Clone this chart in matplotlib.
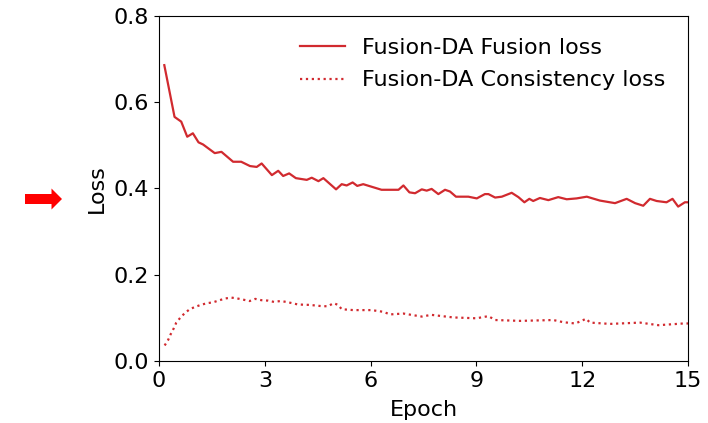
import matplotlib
matplotlib.use('Agg')
import matplotlib.pyplot as plt
from matplotlib.patches import FancyArrow

# Fusion loss (epoch, loss)
fusion_epoch = [0.15, 0.30, 0.44, 0.63, 0.80, 0.96, 1.12, 1.25, 1.58, 1.77,
                2.10, 2.33, 2.58, 2.77, 2.91, 3.20, 3.38, 3.52, 3.69, 3.88,
                4.19, 4.33, 4.52, 4.66, 5.02, 5.18, 5.32, 5.49, 5.62, 5.79,
                6.31, 6.79, 6.93, 7.10, 7.26, 7.45, 7.59, 7.73, 7.92, 8.11,
                8.25, 8.42, 8.77, 9.01, 9.24, 9.34, 9.53, 9.72, 10.00, 10.19,
                10.36, 10.50, 10.61, 10.80, 11.04, 11.32, 11.56, 11.84, 12.13, 12.50,
                12.93, 13.26, 13.50, 13.73, 13.92, 14.11, 14.39, 14.56, 14.72, 14.91,
                15.00]
fusion_loss = [0.686, 0.624, 0.566, 0.555, 0.520, 0.528, 0.507, 0.502, 0.482, 0.485,
               0.462, 0.462, 0.452, 0.450, 0.458, 0.431, 0.441, 0.429, 0.435, 0.424,
               0.420, 0.425, 0.417, 0.424, 0.398, 0.410, 0.407, 0.414, 0.406, 0.410,
               0.397, 0.397, 0.407, 0.391, 0.389, 0.398, 0.395, 0.399, 0.387, 0.397,
               0.393, 0.381, 0.381, 0.377, 0.387, 0.387, 0.379, 0.381, 0.390, 0.380,
               0.368, 0.376, 0.371, 0.378, 0.373, 0.380, 0.375, 0.377, 0.381, 0.372,
               0.366, 0.376, 0.366, 0.360, 0.376, 0.371, 0.368, 0.376, 0.358, 0.368,
               0.368]

# Consistency loss (epoch, loss)
cons_epoch = [0.16, 0.26, 0.33, 0.42, 0.49, 0.60, 0.73, 0.87, 1.01, 1.18,
              1.36, 1.53, 1.72, 1.88, 2.05, 2.22, 2.40, 2.57, 2.73, 2.90,
              3.09, 3.26, 3.44, 3.61, 3.78, 3.94, 4.28, 4.63, 4.79, 4.95,
              5.08, 5.18, 5.51, 6.03, 6.36, 6.55, 6.93, 7.45, 7.72, 8.34,
              9.00, 9.34, 9.53, 10.24, 11.18, 11.46, 11.80, 11.98, 12.11, 12.22,
              12.79, 13.64, 14.16, 14.87, 15.00]
cons_loss = [0.036, 0.049, 0.062, 0.076, 0.089, 0.100, 0.111, 0.120, 0.125, 0.130,
             0.134, 0.136, 0.141, 0.145, 0.147, 0.145, 0.142, 0.139, 0.144, 0.141,
             0.140, 0.137, 0.139, 0.137, 0.134, 0.131, 0.130, 0.127, 0.127, 0.134,
             0.130, 0.120, 0.118, 0.118, 0.114, 0.108, 0.110, 0.103, 0.107, 0.101,
             0.099, 0.104, 0.095, 0.093, 0.095, 0.090, 0.087, 0.093, 0.098, 0.089,
             0.086, 0.089, 0.083, 0.087, 0.087]

x_ticks = [0, 3, 6, 9, 12, 15]
y_ticks = [0.0, 0.2, 0.4, 0.6, 0.8]

red = '#d12a2f'

fig = plt.figure(figsize=(7.08, 4.23), dpi=100)
ax = fig.add_axes([0.2246, 0.1466, 0.7472, 0.8156])

ax.plot(fusion_epoch, fusion_loss, color=red, lw=1.6, label='Fusion-DA Fusion loss')
ax.plot(cons_epoch, cons_loss, color=red, lw=1.6, ls=':', label='Fusion-DA Consistency loss')

ax.set_xlim(0, 15)
ax.set_ylim(0, 0.8)
ax.set_xticks(x_ticks)
ax.set_yticks(y_ticks)
ax.set_yticklabels(['%.1f' % v for v in y_ticks])
ax.tick_params(labelsize=16)
ax.set_xlabel('Epoch', fontsize=16, labelpad=7)
ax.set_ylabel('Loss', fontsize=16, labelpad=5)
ax.legend(loc='upper right', frameon=False, fontsize=16, borderaxespad=0.6,
          labelspacing=0.55)

# red arrow pointing at the y label
arrow = FancyArrow(25 / 708, 1 - 199 / 423, 37 / 708, 0,
                   width=10 / 423, head_width=21 / 423, head_length=10.5 / 708,
                   length_includes_head=True, color='#ff0000', lw=0,
                   transform=fig.transFigure)
fig.patches.append(arrow)

fig.savefig('out.png', dpi=100)
